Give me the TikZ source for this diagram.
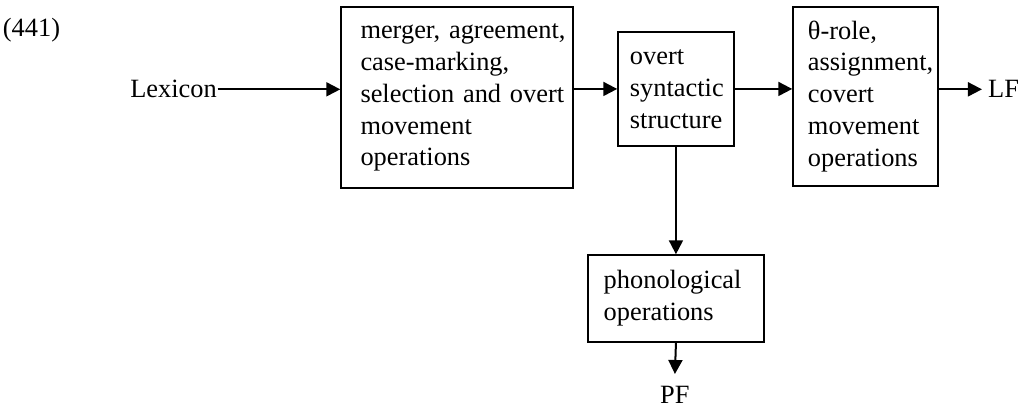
\documentclass[tikz,border=0pt]{standalone}
\usepackage{fontspec}
\setmainfont{Liberation Serif}
\usepackage{tikz}
\usetikzlibrary{arrows.meta,positioning,calc}

\begin{document}
\begin{tikzpicture}[>={Triangle[length=5.3pt,width=5.3pt]},line width=0.76pt,
    font=\fontsize{10}{12.1}\selectfont,
    opbox/.style 2 args={draw,line width=0.55pt,align=left,inner ysep=0pt,inner xsep=0.02cm,
      text width=#1,execute at begin node={\hyphenpenalty=10000\leftskip=#2\relax}}]
  \useasboundingbox (0,0) rectangle (13.68,-5.41);
  \node (exnum) at (0.42,-0.40) {(441)};
  \node[anchor=east,inner xsep=0pt] (lexicon) at (2.90,-1.19) {Lexicon};
  \node[opbox={3.05cm}{0.24cm},minimum height=2.411cm] (merge) at (6.087,-1.299)
    {merger, agreement,\\case-marking,\\selection and overt\\movement\\operations};
  \node[opbox={1.505cm}{0.14cm},minimum height=1.518cm] (overt) at (9.004,-1.185)
    {overt\\syntactic\\structure};
  \node[opbox={1.891cm}{0.18cm},minimum height=2.384cm] (covert) at (11.528,-1.285)
    {θ-role,\\assignment,\\covert\\movement\\operations};
  \node[anchor=west,inner xsep=0.07cm] (lf) at (13.08,-1.19) {LF};
  \node[opbox={2.304cm}{0.19cm},minimum height=1.159cm] (phon) at (9.004,-3.976)
    {phonological\\operations};
  \node[inner ysep=0.15cm] (pf) at (8.99,-5.26) {PF};
  \draw[->] (lexicon.east) -- (lexicon.east -| merge.west);
  \draw[->] (merge.east |- overt.west) -- (overt.west);
  \draw[->] (overt.east) -- (overt.east -| covert.west);
  \draw[->] (covert.east |- lf.west) -- (lf.west);
  \draw[->] (overt.south) -- (phon.north);
  \draw[->] (phon.south) -- (pf.north);
\end{tikzpicture}
\end{document}
